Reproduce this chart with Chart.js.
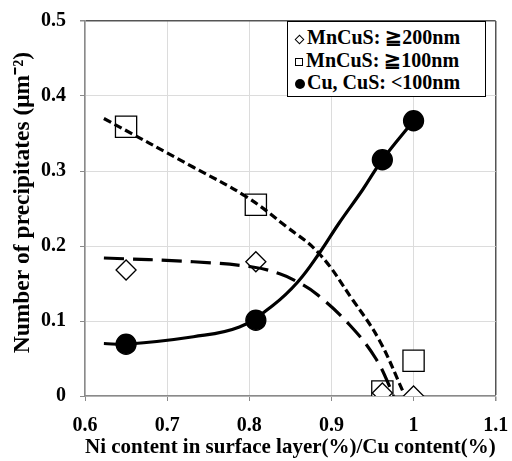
<!DOCTYPE html>
<html>
<head>
<meta charset="utf-8">
<script src="https://cdn.jsdelivr.net/npm/chart.js@4.4.0/dist/chart.umd.min.js"></script>
<style>
    html, body { margin: 0; padding: 0; background: #fff; }
    #wrap { position: relative; width: 512px; height: 461px; }
    #legend {
        position: absolute; left: 287px; top: 21px; width: 199px; height: 76px;
        border: 1.5px solid #000; background: #fff; box-sizing: border-box;
        font: bold 20px 'Liberation Serif', 'Times New Roman', serif; color: #000;
        padding: 4px 0 0 3px;
    }
    .row { height: 22.5px; line-height: 22.5px; white-space: nowrap; }
    .mk { display: inline-block; width: 8px; height: 8px; margin: 0 3px 0 4px; vertical-align: 1px; box-sizing: border-box; }
    .mk.diamond { width: 7px; height: 7px; border: 1.2px solid #000; transform: rotate(45deg); margin-left: 5px; margin-right: 4px; }
    .mk.square { border: 1.2px solid #000; }
    .mk.circle { width: 10px; height: 10px; border-radius: 50%; background: #000; vertical-align: 0; margin-right: 2px; }
</style>
</head>
<body>
<div id="wrap">
    <canvas id="chart" width="512" height="461"></canvas>
    <div id="legend"></div>
</div>
<script>
// series names
const seriesNames = ['MnCuS: \u2267200nm', 'MnCuS: \u2267100nm', 'Cu, CuS: <100nm'];
const seriesMarkers = ['diamond', 'square', 'circle'];

// measured points (x = Ni/Cu ratio)
const xValues = [0.65, 0.808, 0.962, 1.0];
const mnCuS200 = [0.168, 0.179, 0.004, 0.0];
const mnCuS100 = [0.359, 0.255, 0.006, 0.047];
const cuCuS = [0.069, 0.101, 0.315, 0.367];

// trend curves
const trend200X = [0.623, 0.732, 0.804, 0.837, 0.859, 0.883, 0.922, 0.954, 0.976];
const trend200Y = [0.184, 0.179, 0.172, 0.163, 0.152, 0.135, 0.095, 0.050, 0.000];
const trend100X = [0.623, 0.732, 0.796, 0.845, 0.885, 0.926, 0.958, 0.988];
const trend100Y = [0.370, 0.305, 0.266, 0.226, 0.190, 0.128, 0.075, 0.004];
const trendCuX = [0.623, 0.65, 0.732, 0.788, 0.829, 0.859, 0.885, 0.909, 0.938, 0.962, 1.0];
const trendCuY = [0.070, 0.069, 0.079, 0.092, 0.121, 0.152, 0.190, 0.230, 0.275, 0.315, 0.367];

const xTickLabels = ['0.6', '0.7', '0.8', '0.9', '1', '1.1'];
const yTickLabels = ['0', '0.1', '0.2', '0.3', '0.4', '0.5'];

function toPoints(xs, ys) {
    return xs.map((x, i) => ({ x: x, y: ys[i] }));
}

// legend html
const legendBox = document.getElementById('legend');
seriesNames.forEach((name, i) => {
    const row = document.createElement('div');
    row.className = 'row';
    const mk = document.createElement('span');
    mk.className = 'mk ' + seriesMarkers[i];
    row.appendChild(mk);
    row.appendChild(document.createTextNode(name));
    legendBox.appendChild(row);
});

const serif = "'Liberation Serif', 'Times New Roman', serif";

// fixed axis box sizes, no extra label overflow padding
function fixAxis(size) {
    return function(s) {
        if (s.isHorizontal()) s.height = size; else s.width = size;
        s.paddingTop = s.paddingBottom = s.paddingLeft = s.paddingRight = 0;
    };
}

const lineBase = {
    type: 'line', showLine: true, pointRadius: 0, borderColor: '#000',
    borderWidth: 3.2, fill: false, tension: 0.4, order: 0
};
const markerBase = {
    type: 'scatter', showLine: false, borderColor: '#000', borderWidth: 1.3,
    backgroundColor: '#fff', order: 1
};

new Chart(document.getElementById('chart'), {
    type: 'scatter',
    data: {
        datasets: [
            Object.assign({}, lineBase, { label: 't1', data: toPoints(trend200X, trend200Y), borderDash: [20, 9] }),
            Object.assign({}, lineBase, { label: 't2', data: toPoints(trend100X, trend100Y), borderDash: [8, 4] }),
            Object.assign({}, lineBase, { label: 't3', data: toPoints(trendCuX, trendCuY) }),
            Object.assign({}, markerBase, { label: seriesNames[0], data: toPoints(xValues, mnCuS200), pointStyle: 'rectRot', pointRadius: 10 }),
            Object.assign({}, markerBase, { label: seriesNames[1], data: toPoints(xValues, mnCuS100), pointStyle: 'rect', pointRadius: 15 }),
            Object.assign({}, markerBase, { label: seriesNames[2], data: toPoints(xValues, cuCuS), pointStyle: 'circle', pointRadius: 10, backgroundColor: '#000' })
        ]
    },
    options: {
        responsive: false,
        animation: false,
        layout: { padding: { top: 21, right: 15 } },
        plugins: { legend: { display: false }, tooltip: { enabled: false } },
        scales: {
            x: {
                type: 'linear', min: 0.6, max: 1.1,
                afterFit: fixAxis(65),
                border: { color: '#8a8a8a', width: 1.5 },
                grid: {
                    color: (c) => c.index === 5 ? '#555' : '#dcdcdc',
                    lineWidth: (c) => c.index === 5 ? 1.5 : 1,
                    tickColor: '#8a8a8a', tickLength: 5
                },
                ticks: {
                    stepSize: 0.1, color: '#000', padding: 13,
                    font: { family: serif, size: 20, weight: 'bold' },
                    callback: (v, i) => xTickLabels[i]
                },
                title: {
                    display: true, text: 'Ni content in surface layer(%)/Cu content(%)', color: '#000',
                    font: { family: serif, size: 21, weight: 'bold' },
                    padding: { top: 0, bottom: 1 }
                }
            },
            y: {
                type: 'linear', min: 0, max: 0.5,
                afterFit: fixAxis(85),
                border: { color: '#8a8a8a', width: 1.5 },
                grid: {
                    color: (c) => c.index === 5 ? '#555' : '#dcdcdc',
                    lineWidth: (c) => c.index === 5 ? 1.5 : 1,
                    tickColor: '#8a8a8a', tickLength: 5
                },
                ticks: {
                    stepSize: 0.1, color: '#000', padding: 14,
                    font: { family: serif, size: 20, weight: 'bold' },
                    callback: (v, i) => yTickLabels[i]
                },
                title: {
                    display: true, text: '\u00a0\u00a0Number of precipitates (\u03bcm\u207b\u00b2)', color: '#000',
                    font: { family: serif, size: 23.5, weight: 'bold' },
                    padding: { top: 9, bottom: 0 }
                }
            }
        }
    }
});
</script>
</body>
</html>
